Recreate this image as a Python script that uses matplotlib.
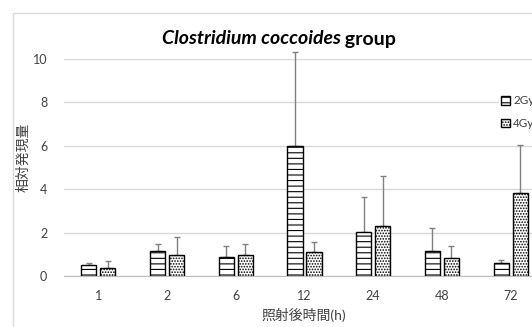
import matplotlib
matplotlib.use("Agg")
import matplotlib.pyplot as plt
from matplotlib.patches import Rectangle
import numpy as np

plt.rcParams['font.family'] = ['Lato', 'Noto Sans CJK JP', 'DejaVu Sans']
plt.rcParams['hatch.linewidth'] = 0.8

# 照射後時間ごとの相対発現量
hours = ['1', '2', '6', '12', '24', '48', '72']
gy2_mean = [0.53, 1.18, 0.89, 6.0, 2.03, 1.15, 0.61]
gy2_sd = [0.08, 0.29, 0.51, 4.3, 1.61, 1.08, 0.13]
gy4_mean = [0.37, 0.97, 0.97, 1.13, 2.30, 0.83, 3.81]
gy4_sd = [0.32, 0.83, 0.53, 0.44, 2.31, 0.57, 2.21]

W, H = 532, 327
fig = plt.figure(figsize=(W / 100, H / 100), dpi=100)

# グラフエリアの枠（右と下ははみ出している）
fig.patches.append(Rectangle((13 / W, -0.1), 540 / W, 1.1 - 13 / H,
                             transform=fig.transFigure, fill=False,
                             edgecolor='#d9d9d9', lw=1))

ax = fig.add_axes([64 / W, 1 - 276.3 / H, 481 / W, 217.6 / H])
x = np.arange(len(hours))
bw = 0.22
off = 0.138

ax.bar(x - off, gy2_mean, bw, color='white', edgecolor='black', lw=1,
       hatch='---', label='2Gy', zorder=3)
ax.bar(x + off, gy4_mean, bw, color='white', edgecolor='black', lw=1,
       hatch='......', label='4Gy', zorder=3)
ax.errorbar(x - off, gy2_mean, yerr=[np.zeros(len(x)), gy2_sd], fmt='none',
            ecolor='#808080', elinewidth=1, capsize=2.3, capthick=1,
            clip_on=False, zorder=2)
ax.errorbar(x + off, gy4_mean, yerr=[np.zeros(len(x)), gy4_sd], fmt='none',
            ecolor='#808080', elinewidth=1, capsize=2.3, capthick=1,
            clip_on=False, zorder=2)

ax.set_xlim(-0.5, 6.5)
ax.set_ylim(0, 10)
ax.set_yticks([0, 2, 4, 6, 8, 10])
ax.set_xticks(x)
ax.set_xticklabels(hours)
ax.tick_params(length=0, labelsize=9, colors='#404040', pad=12)
ax.tick_params(axis='x', pad=10)
ax.yaxis.grid(True, color='#d9d9d9', lw=1)
ax.set_axisbelow(True)
for s in ['top', 'right', 'left']:
    ax.spines[s].set_visible(False)
ax.spines['bottom'].set_color('#bfbfbf')

fig.text(23 / W, 1 - 157 / H, '相対発現量', rotation=90, ha='center',
         va='center', fontsize=10, color='#404040')
fig.text(304 / W, 1 - 315 / H, '照射後時間(h)', ha='center', va='center',
         fontsize=10, color='#404040')

# タイトル：菌名だけ斜体
r = fig.canvas.get_renderer()
t1 = fig.text(0, 1 - 39 / H, 'Clostridium coccoides', fontsize=14,
              fontweight='bold', fontstyle='italic', va='center')
t2 = fig.text(0, 1 - 39 / H, ' group', fontsize=14, fontweight='bold',
              va='center')
w1 = t1.get_window_extent(r).width
w2 = t2.get_window_extent(r).width
x0 = 279 - (w1 + w2) / 2
t1.set_x(x0 / W)
t2.set_x((x0 + w1) / W)

leg = fig.legend(loc='upper left', bbox_to_anchor=(499 / W, 1 - 93 / H),
                 frameon=True, fontsize=8.5, handlelength=0.75,
                 handleheight=0.75, handletextpad=0.25, labelspacing=1.0,
                 borderpad=0.2, borderaxespad=0)
leg.get_frame().set_edgecolor('none')
leg.get_frame().set_facecolor('white')
leg.get_frame().set_alpha(1)
for t in leg.get_texts():
    t.set_color('#404040')

fig.savefig('out.png', dpi=100)
